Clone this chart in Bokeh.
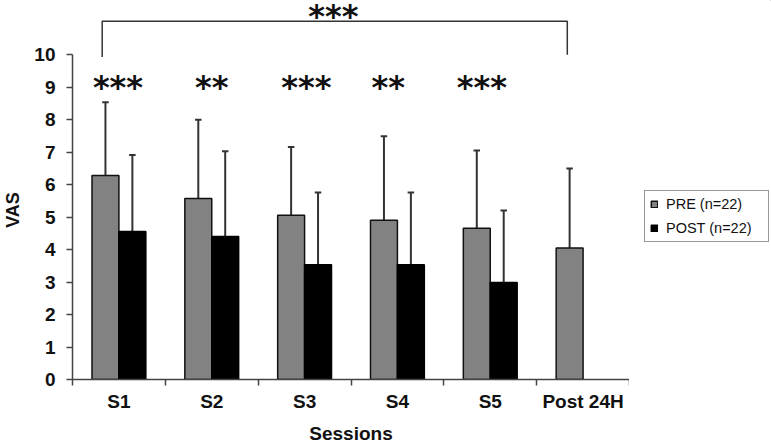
from bokeh.plotting import figure
from bokeh.layouts import row
from bokeh.models import (ColumnDataSource, Range1d, FixedTicker, Legend, LegendItem, Label)
from bokeh.core.properties import value
from bokeh.embed import file_html
from bokeh.resources import INLINE

# ---- data ----
categories = ["S1", "S2", "S3", "S4", "S5", "Post 24H"]
pre_mean = [6.28, 5.57, 5.06, 4.90, 4.66, 4.05]
pre_sd = [2.26, 2.43, 2.10, 2.59, 2.39, 2.45]
post_mean = [4.56, 4.40, 3.53, 3.53, 2.99]
post_sd = [2.35, 2.63, 2.23, 2.23, 2.21]
sig_labels = ["***", "**", "***", "**", "***"]
sig_pos = [0.49, 1.50, 2.52, 3.40, 4.41]
overall_sig = "***"
y_ticks = list(range(0, 11))
legend_labels = ["PRE (n=22)", "POST (n=22)"]

BAR_W = 0.29
OFF = 0.145
PRE_C = "#828282"
POST_C = "#000000"

H = 446
p = figure(width=629, height=H, output_backend="svg", toolbar_location=None,
           x_range=Range1d(0, 6), y_range=Range1d(0, 11.67),
           min_border_left=71, min_border_right=0, min_border_top=0,
           min_border_bottom=66)
p.outline_line_color = None
p.xgrid.visible = False
p.ygrid.visible = False

pre_x = [i + 0.5 - OFF for i in range(len(pre_mean))]
post_x = [i + 0.5 + OFF for i in range(len(post_mean))]

pre_src = ColumnDataSource(dict(x=pre_x, top=pre_mean,
                                hi=[m + s for m, s in zip(pre_mean, pre_sd)]))
post_src = ColumnDataSource(dict(x=post_x, top=post_mean,
                                 hi=[m + s for m, s in zip(post_mean, post_sd)]))

ERR_C = "#333333"
CAP = 0.035
for src in (pre_src, post_src):
    p.segment(x0="x", y0="top", x1="x", y1="hi", source=src, line_color=ERR_C, line_width=2)
    d = src.data
    p.segment(x0=[x - CAP for x in d["x"]], y0=d["hi"], x1=[x + CAP for x in d["x"]], y1=d["hi"],
              line_color=ERR_C, line_width=2)

p.vbar(x="x", top="top", width=BAR_W, bottom=0, source=pre_src,
       fill_color=PRE_C, line_color="#111111", line_width=1.5)
p.vbar(x="x", top="top", width=BAR_W, bottom=0, source=post_src,
       fill_color=POST_C, line_color="#000000", line_width=1.5)

# significance asterisks
p.text(x=sig_pos, y=[9.0] * len(sig_pos), text=sig_labels, text_align="center",
       text_baseline="middle", text_font=value("DejaVu Sans"), text_font_size="32px",
       text_font_style="bold", text_color="#111111")

# bracket
p.line(x=[0.32, 0.32, 5.33, 5.33], y=[9.93, 11.03, 11.03, 10.0], line_color="#333333", line_width=1.5)
p.add_layout(Label(x=2.81, y=11.18, text=overall_sig, text_align="center", text_baseline="middle",
                   text_font="DejaVu Sans", text_font_size="32px", text_font_style="bold",
                   text_color="#111111"))

# axes
xa = p.xaxis[0]
xa.ticker = FixedTicker(ticks=[i + 0.5 for i in range(6)], minor_ticks=list(range(7)))
xa.major_label_overrides = {i + 0.5: c for i, c in enumerate(categories)}
xa.major_tick_line_color = None
xa.major_tick_in = 0
xa.major_tick_out = 0
xa.minor_tick_in = 0
xa.minor_tick_out = 6
xa.minor_tick_line_color = "#444444"
xa.axis_line_color = "#444444"
xa.axis_line_width = 1.5
xa.minor_tick_line_width = 1.5
xa.bounds = (0, 6)
xa.major_label_text_font = "Liberation Sans"
xa.major_label_text_font_style = "bold"
xa.major_label_text_font_size = "19px"
xa.major_label_text_color = "#111111"
xa.major_label_standoff = 5
xa.axis_label = "Sessions"
xa.axis_label_text_font = "Liberation Sans"
xa.axis_label_text_font_style = "bold"
xa.axis_label_text_font_size = "19px"
xa.axis_label_text_color = "#111111"
xa.axis_label_standoff = 8

ya = p.yaxis[0]
ya.ticker = FixedTicker(ticks=y_ticks)
ya.bounds = (0, 10)
ya.minor_tick_line_color = None
ya.major_tick_in = 0
ya.major_tick_out = 6
ya.major_tick_line_color = "#444444"
ya.major_tick_line_width = 1.5
ya.axis_line_color = "#444444"
ya.axis_line_width = 1.5
ya.major_label_text_font = "Liberation Sans"
ya.major_label_text_font_style = "bold"
ya.major_label_text_font_size = "19px"
ya.major_label_text_color = "#111111"
ya.major_label_standoff = 11
ya.axis_label = "VAS" + "\u00a0" * 8
ya.axis_label_text_font = "Liberation Sans"
ya.axis_label_text_font_style = "bold"
ya.axis_label_text_font_size = "18px"
ya.axis_label_text_color = "#111111"
ya.axis_label_standoff = 8

# ---- legend panel (separate small figure, frames aligned with main plot) ----
lg = figure(width=142, height=H, output_backend="svg", toolbar_location=None,
            x_range=Range1d(0, 1), y_range=Range1d(0, 1),
            min_border=0, min_border_left=0, min_border_right=0,
            min_border_top=0, min_border_bottom=0)
lg.axis.visible = False
lg.xgrid.visible = False
lg.ygrid.visible = False
lg.outline_line_color = None
r_pre = lg.vbar(x=[5], top=[5], bottom=[4], width=0.1, fill_color=PRE_C,
                line_color="#111111", line_width=1.5)
r_post = lg.vbar(x=[5], top=[5], bottom=[4], width=0.1, fill_color=POST_C,
                 line_color="#000000", line_width=1.5)

legend = Legend(items=[LegendItem(label=legend_labels[0], renderers=[r_pre]),
                       LegendItem(label=legend_labels[1], renderers=[r_post])],
                location=(15, 137))
legend.border_line_color = "#333333"
legend.border_line_width = 1.5
legend.background_fill_alpha = 1
legend.label_text_font = "Liberation Sans"
legend.label_text_font_size = "14.5px"
legend.label_text_color = "#111111"
legend.glyph_width = 8
legend.glyph_height = 8
legend.label_standoff = 8
legend.label_height = 16
legend.label_width = 97
legend.spacing = 8
legend.padding = 5
legend.margin = 0
lg.add_layout(legend, "center")

layout = row(p, lg, spacing=0)
open("out.html", "w").write(file_html(layout, INLINE))
